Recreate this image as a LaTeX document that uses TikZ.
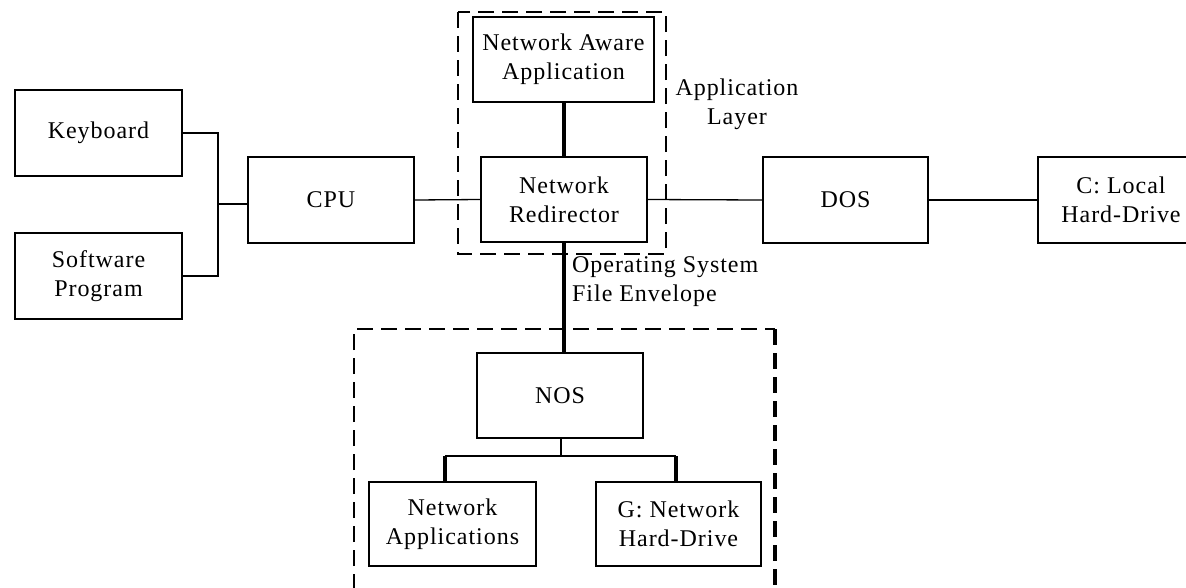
\documentclass[tikz,border=0pt]{standalone}
\usepackage{fontspec}
\setmainfont[LetterSpace=4]{Liberation Serif}
\usepackage{tikz}
\usetikzlibrary{positioning}

\begin{document}
\begin{tikzpicture}[x=1pt, y=-1pt,
	box/.style={draw, line width=1.3pt, minimum width=166pt, minimum height=86pt,
		inner sep=0pt, align=center, font=\fontsize{24}{29}\selectfont},
	layer/.style={line width=1.3pt, dash pattern=on 16pt off 8pt},
	wire/.style={line width=1.3pt},
	bus wire/.style={line width=3.2pt},
	lbl/.style={inner sep=0pt, font=\fontsize{24}{29}\selectfont}]
	\useasboundingbox (0,0) rectangle (1186,587);
	% input side
	\node[box, minimum width=167pt] (kbd) at (98.5,133) {Keyboard};
	\node[box, minimum width=167pt] (sw) at (98.5,276) {Software\\Program};
	\node[box] (cpu) at (331,200) {CPU};
	\coordinate (join) at (218,204);
	\draw[wire] (kbd.east) -| (join) |- (sw.east);
	\draw[wire] (join) -- (join -| cpu.west);
	% application layer
	\draw[layer] (458,12) rectangle (666,254);
	\node[box, minimum width=181pt, minimum height=85pt] (naa) at (563.5,59.5) {Network Aware\\Application};
	\node[box, minimum height=85pt] (nr) at (564,199.5) {Network\\Redirector};
	\node[lbl, align=center] (applbl) at (737,104) {Application\\Layer};
	\draw[wire] (cpu.east) -- (nr.west);
	\draw[bus wire] (naa.south -| nr.north) -- (nr.north);
	% local side
	\node[box, minimum width=165pt] (dos) at (845.5,200) {DOS};
	\node[box] (cdrv) at (1121,200) {C: Local\\Hard-Drive};
	\draw[wire] (nr.east) -- (dos.west);
	\draw[wire] (dos.east) -- (cdrv.west);
	% network side
	\draw[layer] (354,590) -- (354,329) -- (775,329);
	\draw[layer, line width=3.2pt] (775,329) -- (775,590);
	\node[box, minimum height=85pt] (nos) at (560,395.5) {NOS};
	\node[lbl, align=left, anchor=north west] (oslbl) at (572,256) {Operating System\\File Envelope};
	\draw[bus wire] (nr.south) -- (nr.south |- nos.north);
	\node[box, minimum width=167pt, minimum height=84pt] (napp) at (452.5,524) {Network\\Applications};
	\node[box, minimum width=165pt, minimum height=84pt] (gdrv) at (678.5,524) {G: Network\\Hard-Drive};
	\coordinate (bus) at (561,456);
	\coordinate (busl) at (445,456);
	\coordinate (busr) at (676,456);
	\draw[wire] (nos.south -| bus) -- (bus);
	\draw[wire, line width=2pt] (busl) -- (busr);
	\draw[bus wire] (busl) -- (busl |- napp.north);
	\draw[bus wire] (busr) -- (busr |- gdrv.north);
\end{tikzpicture}
\end{document}
